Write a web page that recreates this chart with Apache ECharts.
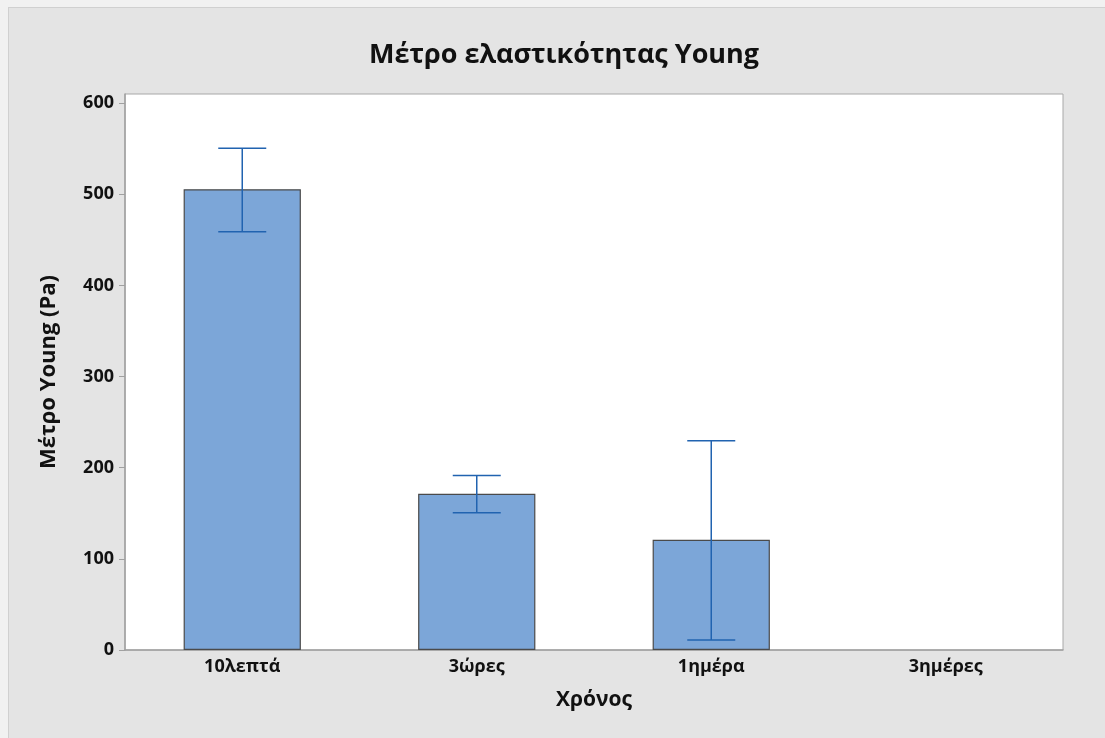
<!DOCTYPE html>
<html><head><meta charset="utf-8">
<script src="https://cdn.jsdelivr.net/npm/echarts@6/dist/echarts.min.js"></script>
<style>
html,body{margin:0;padding:0;background:#f1f1f1;width:1105px;height:738px;overflow:hidden}
#frame{position:absolute;left:8px;top:7px;width:1097px;height:731px;background:#e4e4e4;border-left:1px solid #d0d0d0;border-top:1px solid #d0d0d0;box-sizing:border-box}
#chart{position:absolute;left:0;top:0;width:1105px;height:738px}
</style></head><body><div id="frame"></div><div id="chart"></div>
<script>
const categories = ['10λεπτά', '3ώρες', '1ημέρα', '3ημέρες'];
const means = [505.5, 171.5, 121, null];
const errLow = [459, 150.5, 11, null];
const errHigh = [550.5, 191.5, 229.5, null];
const yTicks = [0, 100, 200, 300, 400, 500, 600];

const FONT = '"Open Sans", "Noto Sans", sans-serif';
const chart = echarts.init(document.getElementById('chart'), null, {renderer: 'canvas'});
const errData = categories.map((c, i) => [i, errLow[i], errHigh[i]]).filter(d => d[1] != null);

chart.setOption({
  backgroundColor: 'transparent',
  animation: false,
  title: {
    text: 'Μέτρο ελαστικότητας Young',
    left: 364, top: 37,
    textStyle: {fontFamily: FONT, fontWeight: 'bold', fontSize: 27, color: '#111'}
  },
  grid: {left: 125, right: 42, top: 94, bottom: 88, show: true, backgroundColor: '#fff', borderColor: '#a8a8a8', borderWidth: 1},
  xAxis: {
    type: 'category', data: categories,
    name: 'Χρόνος', nameLocation: 'middle', nameGap: 40,
    nameTextStyle: {fontFamily: FONT, fontWeight: 'bold', fontSize: 21, color: '#111'},
    axisLine: {lineStyle: {color: '#a0a0a0', width: 1.5}},
    axisTick: {alignWithLabel: true, length: 6, lineStyle: {color: '#a0a0a0'}},
    axisLabel: {fontFamily: FONT, fontWeight: 'bold', fontSize: 18, color: '#111', margin: 8},
    splitLine: {show: false}
  },
  yAxis: {
    type: 'value', min: 0, max: 610, interval: 100,
    name: 'Μέτρο Young (Pa)', nameLocation: 'middle', nameGap: 65,
    nameTextStyle: {fontFamily: FONT, fontWeight: 'bold', fontSize: 22, color: '#111'},
    axisLine: {show: true, lineStyle: {color: '#a0a0a0', width: 1.5}},
    axisTick: {show: true, length: 6, customValues: yTicks, lineStyle: {color: '#a0a0a0'}},
    axisLabel: {fontFamily: FONT, fontWeight: 'bold', fontSize: 18, color: '#111', margin: 11, customValues: yTicks},
    splitLine: {show: false}
  },
  series: [
    {
      type: 'bar', data: means, barWidth: '50%',
      itemStyle: {color: '#7ca6d8', borderColor: '#4a4a4a', borderWidth: 1.2}
    },
    {
      type: 'custom', data: errData, z: 10,
      renderItem: function (params, api) {
        const x = api.value(0);
        const lo = api.coord([x, api.value(1)]);
        const hi = api.coord([x, api.value(2)]);
        const half = 24;
        const style = {stroke: '#2163b0', lineWidth: 1.5, fill: null};
        return {
          type: 'group',
          children: [
            {type: 'line', shape: {x1: hi[0], y1: hi[1], x2: lo[0], y2: lo[1]}, style: style},
            {type: 'line', shape: {x1: hi[0] - half, y1: hi[1], x2: hi[0] + half, y2: hi[1]}, style: style},
            {type: 'line', shape: {x1: lo[0] - half, y1: lo[1], x2: lo[0] + half, y2: lo[1]}, style: style}
          ]
        };
      }
    }
  ]
});
</script></body></html>
